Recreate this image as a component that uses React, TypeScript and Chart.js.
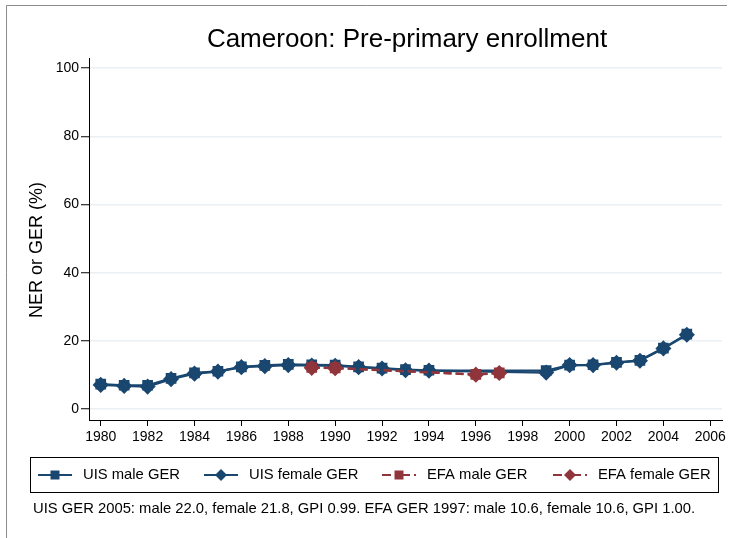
import React, { useEffect, useRef } from "react";
import { Chart, registerables } from "chart.js";
Chart.register(...registerables);

const titleText = "Cameroon: Pre-primary enrollment";
const yTitle = "NER or GER (%)";
const footnote =
  "UIS GER 2005: male 22.0, female 21.8, GPI 0.99. EFA GER 1997: male 10.6, female 10.6, GPI 1.00.";

const uisYears = [1980, 1981, 1982, 1983, 1984, 1985, 1986, 1987, 1988, 1989, 1990, 1991, 1992, 1993, 1994, 1999, 2000, 2001, 2002, 2003, 2004, 2005];
const uisMale = [7.3, 7.0, 7.0, 9.0, 10.6, 11.1, 12.4, 12.8, 13.1, 13.0, 12.9, 12.4, 12.0, 11.6, 11.4, 11.3, 12.9, 13.0, 13.7, 14.3, 17.9, 22.0];
const uisFemale = [7.1, 6.8, 6.6, 8.8, 10.4, 11.0, 12.3, 12.6, 12.9, 12.8, 12.7, 12.3, 11.9, 11.4, 11.3, 10.7, 12.9, 12.9, 13.6, 14.2, 17.8, 21.8];

const efaYears = [1989, 1990, 1996, 1997];
const efaMale = [12.2, 12.1, 10.2, 10.6];
const efaFemale = [12.1, 12.0, 10.1, 10.6];

const xTicks = [1980, 1982, 1984, 1986, 1988, 1990, 1992, 1994, 1996, 1998, 2000, 2002, 2004, 2006];
const yTicks = [0, 20, 40, 60, 80, 100];

const BLUE = "#1a476f";
const RED = "#90353b";
const FONT = "'Liberation Sans', Arial, Helvetica, sans-serif";

const legendItems = [
  { label: "UIS male GER", color: BLUE, style: "rect", dash: [] as number[], x: 38 },
  { label: "UIS female GER", color: BLUE, style: "rectRot", dash: [] as number[], x: 204 },
  { label: "EFA male GER", color: RED, style: "rect", dash: [9, 4, 2, 4], x: 382 },
  { label: "EFA female GER", color: RED, style: "rectRot", dash: [9, 4, 2, 4], x: 553 },
];

function drawMarker(ctx: CanvasRenderingContext2D, style: string, cx: number, cy: number, color: string) {
  ctx.save();
  ctx.fillStyle = color;
  ctx.setLineDash([]);
  ctx.beginPath();
  if (style === "rect") {
    const h = 4.5;
    ctx.rect(cx - h, cy - h, 2 * h, 2 * h);
  } else {
    const r = 6;
    ctx.moveTo(cx, cy - r);
    ctx.lineTo(cx + r, cy);
    ctx.lineTo(cx, cy + r);
    ctx.lineTo(cx - r, cy);
    ctx.closePath();
  }
  ctx.fill();
  ctx.restore();
}

const decorPlugin = {
  id: "decor",
  afterDraw(chart: any) {
    const ctx: CanvasRenderingContext2D = chart.ctx;
    ctx.save();
    // outer frame (top & left)
    ctx.strokeStyle = "#8c8c8c";
    ctx.lineWidth = 1;
    ctx.beginPath();
    ctx.moveTo(6.5, 540);
    ctx.lineTo(6.5, 5.5);
    ctx.lineTo(727, 5.5);
    ctx.stroke();

    // title
    ctx.fillStyle = "#000";
    ctx.font = `26px ${FONT}`;
    ctx.textAlign = "center";
    ctx.textBaseline = "alphabetic";
    ctx.fillText(titleText, 407, 47);

    // y title
    ctx.save();
    ctx.translate(42, 250);
    ctx.rotate(-Math.PI / 2);
    ctx.font = `18px ${FONT}`;
    ctx.textAlign = "center";
    ctx.textBaseline = "alphabetic";
    ctx.fillText(yTitle, 0, 0);
    ctx.restore();

    // legend box
    ctx.strokeStyle = "#000";
    ctx.lineWidth = 1;
    ctx.strokeRect(30.5, 457.5, 688, 35);
    const ly = 475;
    legendItems.forEach((it) => {
      ctx.save();
      ctx.strokeStyle = it.color;
      ctx.lineWidth = 2;
      ctx.setLineDash(it.dash);
      ctx.beginPath();
      ctx.moveTo(it.x, ly);
      ctx.lineTo(it.x + 34, ly);
      ctx.stroke();
      ctx.restore();
      drawMarker(ctx, it.style, it.x + 17, ly, it.color);
      ctx.fillStyle = "#000";
      ctx.font = `14.8px ${FONT}`;
      ctx.textAlign = "left";
      ctx.textBaseline = "middle";
      ctx.fillText(it.label, it.x + 45, ly);
    });

    // footnote
    ctx.font = `14.8px ${FONT}`;
    ctx.textAlign = "left";
    ctx.textBaseline = "middle";
    ctx.fillStyle = "#000";
    ctx.fillText(footnote, 33, 509);
    ctx.restore();
  },
};

export default function App() {
  const ref = useRef<HTMLCanvasElement | null>(null);
  useEffect(() => {
    if (!ref.current) return;
    const mk = (xs: number[], ys: number[]) => xs.map((x, i) => ({ x, y: ys[i] }));
    const chart = new Chart(ref.current, {
      type: "line",
      data: {
        datasets: [
          {
            label: "UIS male GER",
            data: mk(uisYears, uisMale),
            borderColor: BLUE,
            backgroundColor: BLUE,
            pointBackgroundColor: BLUE,
            pointBorderColor: BLUE,
            pointStyle: "rect",
            pointRadius: 6,
            borderWidth: 2.2,
            order: 4,
          },
          {
            label: "UIS female GER",
            data: mk(uisYears, uisFemale),
            borderColor: BLUE,
            backgroundColor: BLUE,
            pointBackgroundColor: BLUE,
            pointBorderColor: BLUE,
            pointStyle: "rectRot",
            pointRadius: 6.5,
            borderWidth: 2.2,
            order: 3,
          },
          {
            label: "EFA male GER",
            data: mk(efaYears, efaMale),
            borderColor: RED,
            backgroundColor: RED,
            pointBackgroundColor: RED,
            pointBorderColor: RED,
            pointStyle: "rect",
            pointRadius: 6,
            borderWidth: 2.2,
            borderDash: [8, 4],
            order: 2,
          },
          {
            label: "EFA female GER",
            data: mk(efaYears, efaFemale),
            borderColor: RED,
            backgroundColor: RED,
            pointBackgroundColor: RED,
            pointBorderColor: RED,
            pointStyle: "rectRot",
            pointRadius: 6.5,
            borderWidth: 2.2,
            borderDash: [8, 4],
            order: 1,
          },
        ],
      },
      options: {
        animation: false,
        responsive: false,
        devicePixelRatio: 1,
        layout: { padding: { top: 58, right: 9, left: 0, bottom: 0 } },
        plugins: {
          legend: { display: false },
          tooltip: { enabled: false },
          title: { display: false },
        },
        events: [],
        scales: {
          x: {
            type: "linear",
            min: 1979.5,
            max: 2006.5,
            afterBuildTicks: (s: any) => {
              s.ticks = xTicks.map((v) => ({ value: v }));
            },
            afterFit: (s: any) => {
              s.height = 118;
            },
            ticks: {
              color: "#000",
              font: { family: FONT, size: 14 },
              padding: 3,
              maxRotation: 0,
              autoSkip: false,
              callback: (v: any) => String(v),
            },
            grid: {
              drawOnChartArea: false,
              tickColor: "#000",
              tickLength: 6,
              tickWidth: 1,
            },
            border: { color: "#000", width: 1 },
          },
          y: {
            type: "linear",
            min: -3.2,
            max: 103,
            afterBuildTicks: (s: any) => {
              s.ticks = yTicks.map((v) => ({ value: v }));
            },
            afterFit: (s: any) => {
              s.width = 89;
            },
            ticks: {
              color: "#000",
              font: { family: FONT, size: 14 },
              padding: 2,
              autoSkip: false,
              callback: (v: any) => String(v),
            },
            grid: {
              color: "#eaf0f3",
              lineWidth: 1.5,
              tickColor: "#000",
              tickLength: 8,
              tickWidth: 1,
            },
            border: { color: "#000", width: 1 },
          },
        },
      },
      plugins: [decorPlugin],
    });
    return () => chart.destroy();
  }, []);
  return (
    <div style={{ position: "absolute", left: 0, top: 0, width: 731, height: 538, background: "#fff" }}>
      <canvas ref={ref} width={731} height={538} style={{ display: "block", width: 731, height: 538 }} />
    </div>
  );
}
